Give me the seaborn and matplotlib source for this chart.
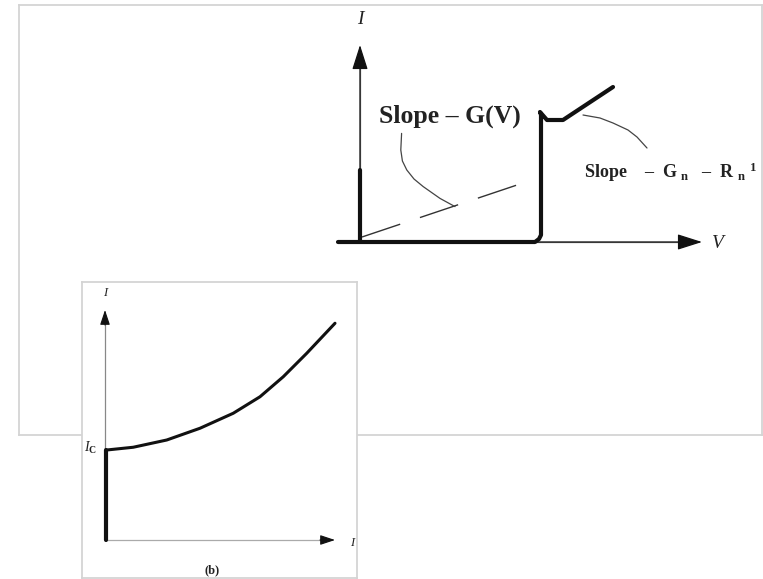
import matplotlib
matplotlib.use("Agg")
import matplotlib.pyplot as plt
import seaborn as sns

sns.set_theme(style="white")
plt.rcParams['font.family'] = ['Liberation Serif', 'DejaVu Serif']
plt.rcParams['mathtext.fontset'] = 'custom'
plt.rcParams['mathtext.rm'] = 'Liberation Serif:bold'
plt.rcParams['mathtext.it'] = 'Liberation Serif:italic'

# --- (a) I-V curve: thick characteristic (V, I in arbitrary units)
iv_v = [-0.55, 4.375, 4.475, 4.525, 4.525, 4.5, 4.675, 5.075, 6.325]
iv_i = [0.0, 0.0, 0.15, 0.35, 6.35, 6.5, 6.1, 6.1, 7.75]
# supercurrent branch at V = 0
sc_v = [0.0, 0.0]
sc_i = [0.0, 3.6]
# dashed slope G(V)
slope_v = [0.05, 4.075]
slope_i = [0.25, 2.95]
# leader curves for the two labels
lead1_v = [1.04, 1.02, 1.06, 1.17, 1.35, 1.58, 2.0, 2.375]
lead1_i = [5.43, 4.6, 4.05, 3.6, 3.15, 2.77, 2.18, 1.77]
lead2_v = [5.575, 6.0, 6.325, 6.7, 6.925, 7.175]
lead2_i = [6.35, 6.2, 5.95, 5.6, 5.25, 4.7]

# --- (b) inset curve
b_x = [0.07, 1.13, 2.47, 3.8, 5.13, 6.2, 7.13, 8.07, 9.2]
b_y = [3.6, 3.71, 4.0, 4.47, 5.07, 5.73, 6.53, 7.47, 8.67]
bc_x = [0.05, 0.05]
bc_y = [0.0, 3.6]

W, H = 763, 579
fig = plt.figure(figsize=(W / 100, H / 100), dpi=100)


def px_axes(left, top, right, bottom):
    return fig.add_axes([left / W, 1 - bottom / H, (right - left) / W, (bottom - top) / H])


frame_col = '#d4d4d4'

# big frame holding diagram (a)
ax = px_axes(19, 5, 762, 435)
ax.set_xlim(-8.525, 10.05)
ax.set_ylim(-9.65, 11.85)
ax.set_xticks([])
ax.set_yticks([])
for s in ax.spines.values():
    s.set_color(frame_col)
    s.set_linewidth(1.3)

axis_kw = dict(arrowstyle='-|>,head_length=1.1,head_width=0.35', color='#111111',
               lw=0.9, mutation_scale=14, shrinkA=0, shrinkB=0)
ax.annotate('', xy=(0, 9.85), xytext=(0, 0), arrowprops=axis_kw)
ax.annotate('', xy=(8.55, 0), xytext=(0, 0), arrowprops=axis_kw)
ax.plot([0, 8.3], [0, 0], color='#777777', lw=0.9)
ax.plot([0, 0], [0, 9.3], color='#777777', lw=0.9)

sns.lineplot(x=iv_v, y=iv_i, sort=False, estimator=None, ax=ax, color='#111111', lw=3.0)
sns.lineplot(x=sc_v, y=sc_i, sort=False, estimator=None, ax=ax, color='#111111', lw=3.0)
ax.plot(slope_v, slope_i, color='#333333', lw=1.0, dashes=(29, 15))
sns.lineplot(x=lead1_v, y=lead1_i, sort=False, estimator=None, ax=ax, color='#444444', lw=0.9)
sns.lineplot(x=lead2_v, y=lead2_i, sort=False, estimator=None, ax=ax, color='#444444', lw=0.9)

ax.text(0, 11.1, 'I', style='italic', fontsize=14, ha='center', va='center', color='#222222')
ax.text(8.95, -0.05, 'V', style='italic', fontsize=14, ha='center', va='center', color='#222222')
ax.text(2.25, 6.3, 'Slope – G(V)', fontsize=18.5, weight='bold', ha='center', va='center',
        color='#222222')
ax.text(5.6, 3.5, r'Slope    –  G $_{\rm n}$   –  R $_{\rm n}$ $^{\rm 1}$', fontsize=13,
        weight='bold', ha='left', va='center', color='#222222', clip_on=False)

# inset (b)
ab = px_axes(82, 282, 357, 578)
ab.set_facecolor('white')
ab.set_xlim(-0.92, 10.08)
ab.set_ylim(-1.52, 10.32)
ab.set_xticks([])
ab.set_yticks([])
for s in ab.spines.values():
    s.set_color(frame_col)
    s.set_linewidth(1.3)

small_kw = dict(arrowstyle='-|>,head_length=0.9,head_width=0.3', color='#111111',
                lw=0.8, mutation_scale=10, shrinkA=0, shrinkB=0)
ab.plot([0, 9.0], [0, 0], color='#aaaaaa', lw=0.9)
ab.plot([0, 0], [0, 9.0], color='#888888', lw=0.9)
ab.annotate('', xy=(9.2, 0), xytext=(8.6, 0), arrowprops=small_kw)
ab.annotate('', xy=(0, 9.2), xytext=(0, 8.6), arrowprops=small_kw)

sns.lineplot(x=b_x, y=b_y, sort=False, estimator=None, ax=ab, color='#111111', lw=2.2)
sns.lineplot(x=bc_x, y=bc_y, sort=False, estimator=None, ax=ab, color='#111111', lw=3.0)

ab.text(0, 9.9, 'I', style='italic', fontsize=9, ha='center', va='center', color='#222222')
ab.text(9.9, -0.1, 'I', style='italic', fontsize=9, ha='center', va='center', color='#222222')
ab.text(-0.6, 3.7, r'$I_{\rm C}$', fontsize=10, ha='center', va='center', color='#222222')
ab.text(4.3, -1.2, '(b)', fontsize=9, weight='bold', ha='center', va='center', color='#222222')

fig.savefig('out.png', dpi=100)
